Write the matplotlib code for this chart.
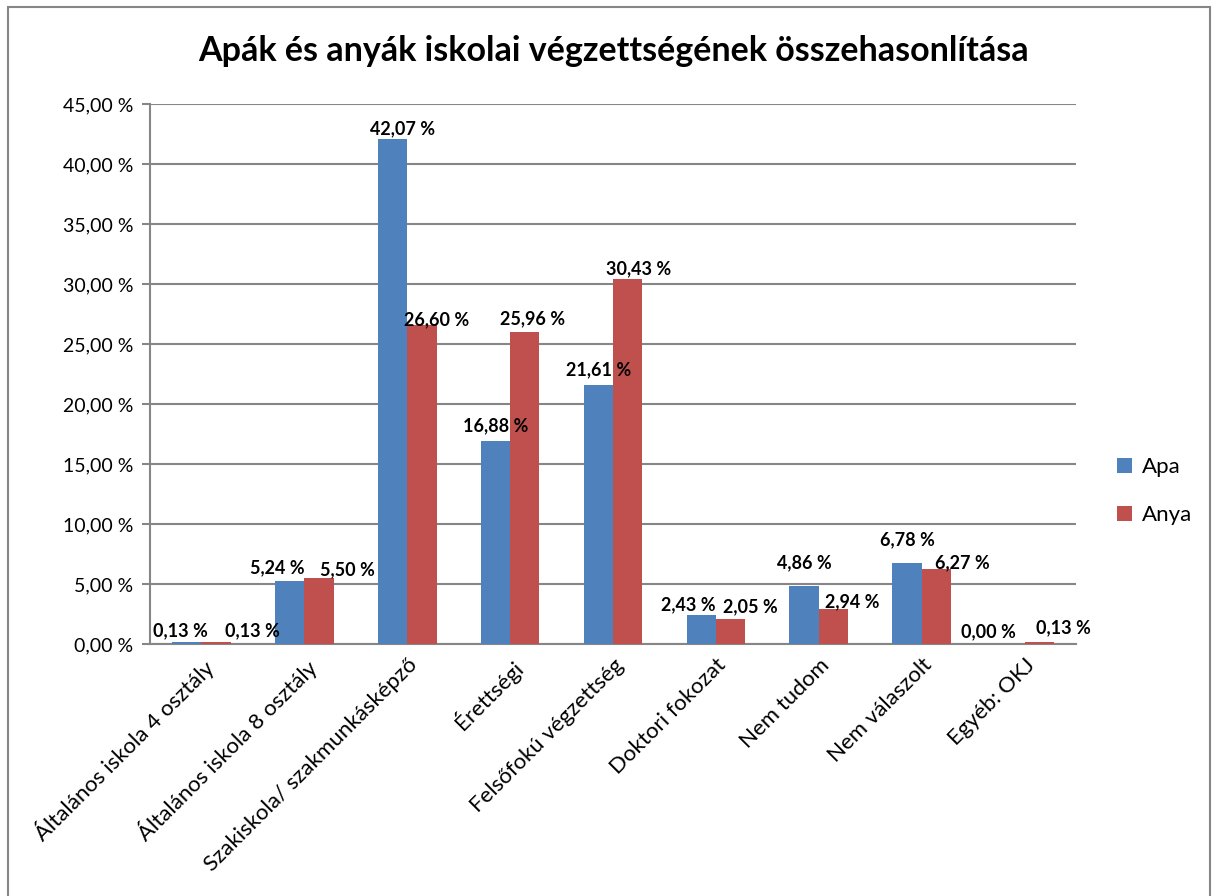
import matplotlib
matplotlib.use("Agg")
import matplotlib.pyplot as plt
import numpy as np
from matplotlib.patches import Rectangle

# --- data ---
categories = [
    "Általános iskola 4 osztály",
    "Általános iskola 8 osztály",
    "Szakiskola/ szakmunkásképző",
    "Érettségi",
    "Felsőfokú végzettség",
    "Doktori fokozat",
    "Nem tudom",
    "Nem válaszolt",
    "Egyéb: OKJ",
]
apa = [0.13, 5.24, 42.07, 16.88, 21.61, 2.43, 4.86, 6.78, 0.00]
anya = [0.13, 5.50, 26.60, 25.96, 30.43, 2.05, 2.94, 6.27, 0.13]
series_names = ["Apa", "Anya"]
yticks = np.arange(0, 46, 5)

# data label nudges in pixels (as placed in the original chart)
apa_dx = [-6, -12, 10, 0, 0, -13, 0, 0, -21]
apa_dy = [6, 8, 5, 10, 9, 5, 17, 17, 7]
anya_dx = [36, 28, 15, 8, 11, 20, 19, 26, 24]
anya_dy = [6, 3, 0, 8, 5, 7, 1, 1, 9]

BLUE = "#4F81BD"
RED = "#C0504D"
GRID = "#868686"

plt.rcParams["font.family"] = ["Lato", "DejaVu Sans"]


def pct(v):
    return f"{v:.2f} %".replace(".", ",")


fig = plt.figure(figsize=(12.15, 8.96), dpi=100)
ax = fig.add_axes([0.1235, 0.28125, 0.7621, 0.6027])

x = np.arange(len(categories))
w = 0.285
b1 = ax.bar(x - w / 2, apa, w, color=BLUE, label=series_names[0], zorder=3)
b2 = ax.bar(x + w / 2, anya, w, color=RED, label=series_names[1], zorder=3)

for bars, vals, dxs, dys in ((b1, apa, apa_dx, apa_dy), (b2, anya, anya_dx, anya_dy)):
    for rect, v, dx, dy in zip(bars, vals, dxs, dys):
        ax.annotate(pct(v), (rect.get_x() + rect.get_width() / 2, v),
                    xytext=(dx, dy), textcoords="offset pixels",
                    ha="center", va="baseline", fontsize=13,
                    fontweight="bold", zorder=4)

ax.set_xlim(-0.5, len(categories) - 0.5)
ax.set_ylim(0, 45)
ax.set_yticks(yticks)
ax.set_yticklabels([pct(t) for t in yticks], fontsize=14)
ax.yaxis.grid(True, color=GRID, linewidth=1.5, zorder=0)
ax.set_axisbelow(True)

ax.set_xticks(x)
ax.set_xticklabels(categories, rotation=45, ha="right",
                   rotation_mode="anchor", fontsize=16)
ax.tick_params(axis="x", length=0, pad=8)
ax.tick_params(axis="y", length=6, width=1.5, color=GRID, direction="out", pad=6)

for s in ("top", "right"):
    ax.spines[s].set_visible(False)
for s in ("left", "bottom"):
    ax.spines[s].set_color(GRID)
    ax.spines[s].set_linewidth(1.5)

fig.text(0.505, 0.943, "Apák és anyák iskolai végzettségének összehasonlítása",
         ha="center", va="center", fontsize=24.5, fontweight="bold")

leg = fig.legend(handles=[b1, b2], labels=series_names,
                 loc="center left", bbox_to_anchor=(0.903, 0.452),
                 frameon=False, fontsize=16, handlelength=0.65,
                 handleheight=0.65, labelspacing=1.25, handletextpad=0.45)

# outer chart border
fig.patches.append(Rectangle((0.0066, -0.01), 0.9893, 1.0022, transform=fig.transFigure,
                             fill=False, edgecolor=GRID, linewidth=1.5))

fig.savefig("out.png", dpi=100)
